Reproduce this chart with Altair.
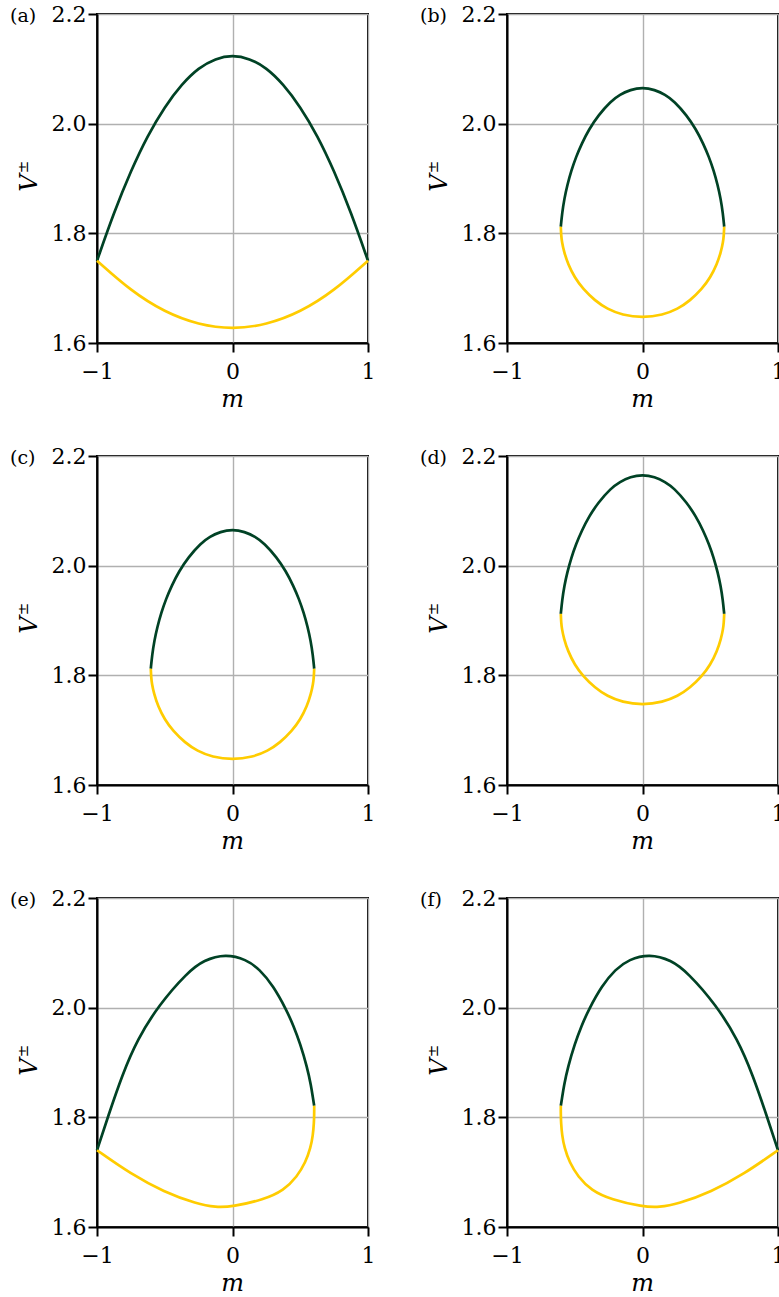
import altair as alt
import pandas as pd

GREEN = "#004225"
YELLOW = "#FFCC00"
FONT = "DejaVu Serif"

# ---- branch values V+ (upper) and V- (lower) against m, per panel ----
a_up_m = [-1.0, -0.875, -0.75, -0.625, -0.5, -0.375, -0.25, -0.125, 0.0,
          0.125, 0.25, 0.375, 0.5, 0.625, 0.75, 0.875, 1.0]
a_up_v = [1.750, 1.838, 1.914, 1.979, 2.031, 2.072, 2.102, 2.119, 2.125,
          2.119, 2.102, 2.072, 2.031, 1.979, 1.914, 1.838, 1.750]
a_lo_m = [-1.0, -0.75, -0.5, -0.25, 0.0, 0.25, 0.5, 0.75, 1.0]
a_lo_v = [1.750, 1.695, 1.656, 1.633, 1.625, 1.633, 1.656, 1.695, 1.750]

egg_up_m = [-0.603, -0.593, -0.577, -0.555, -0.526, -0.491, -0.448, -0.394, -0.327,
            -0.234, -0.167, -0.09, 0.0, 0.09, 0.167, 0.234, 0.327, 0.394, 0.448,
            0.491, 0.526, 0.555, 0.577, 0.593, 0.603]
egg_up_v = [1.812, 1.837, 1.863, 1.888, 1.914, 1.939, 1.964, 1.990, 2.015,
            2.041, 2.053, 2.062, 2.066, 2.062, 2.053, 2.041, 2.015, 1.990, 1.964,
            1.939, 1.914, 1.888, 1.863, 1.837, 1.812]
egg_lo_m = [-0.603, -0.600, -0.595, -0.58, -0.55, -0.50, -0.44, -0.35, -0.26, -0.15,
            0.0, 0.15, 0.26, 0.35, 0.44, 0.50, 0.55, 0.58, 0.595, 0.600, 0.603]
egg_lo_v = [1.812, 1.796, 1.785, 1.767, 1.744, 1.719, 1.699, 1.677, 1.662, 1.651,
            1.646, 1.651, 1.662, 1.677, 1.699, 1.719, 1.744, 1.767, 1.785, 1.796, 1.812]

d_up_m = egg_up_m
d_up_v = [1.912, 1.937, 1.963, 1.988, 2.014, 2.039, 2.064, 2.090, 2.115,
          2.141, 2.153, 2.162, 2.166, 2.162, 2.153, 2.141, 2.115, 2.090, 2.064,
          2.039, 2.014, 1.988, 1.963, 1.937, 1.912]
d_lo_m = egg_lo_m
d_lo_v = [1.912, 1.896, 1.885, 1.867, 1.844, 1.819, 1.799, 1.777, 1.762, 1.751,
          1.746, 1.751, 1.762, 1.777, 1.799, 1.819, 1.844, 1.867, 1.885, 1.896, 1.912]

e_up_m = [-1.0, -0.918, -0.813, -0.703, -0.543, -0.334, -0.211, -0.05, 0.1, 0.2,
          0.3, 0.4, 0.45, 0.5, 0.55, 0.58, 0.595, 0.603]
e_up_v = [1.740, 1.802, 1.878, 1.942, 2.005, 2.064, 2.087, 2.098, 2.088, 2.070,
          2.040, 1.995, 1.967, 1.934, 1.892, 1.858, 1.833, 1.821]
e_lo_m = [-1.0, -0.752, -0.506, -0.261, -0.125, 0.0, 0.231, 0.379, 0.477, 0.539,
          0.576, 0.594, 0.601, 0.603, 0.603]
e_lo_v = [1.740, 1.697, 1.664, 1.642, 1.636, 1.637, 1.650, 1.667, 1.692, 1.718,
          1.744, 1.768, 1.790, 1.805, 1.821]

f_up_m = [-0.603, -0.595, -0.58, -0.55, -0.5, -0.45, -0.4, -0.3, -0.2, -0.1,
          0.05, 0.211, 0.334, 0.543, 0.703, 0.813, 0.918, 1.0]
f_up_v = [1.821, 1.833, 1.858, 1.892, 1.934, 1.967, 1.995, 2.040, 2.070, 2.088,
          2.098, 2.087, 2.064, 2.005, 1.942, 1.878, 1.802, 1.740]
f_lo_m = [-0.603, -0.603, -0.601, -0.594, -0.576, -0.539, -0.477, -0.379, -0.231,
          0.0, 0.125, 0.261, 0.506, 0.752, 1.0]
f_lo_v = [1.821, 1.805, 1.790, 1.768, 1.744, 1.718, 1.692, 1.667, 1.650,
          1.637, 1.636, 1.642, 1.664, 1.697, 1.740]

y_ticks = [1.6, 1.8, 2.0, 2.2]

W, H = 271, 329
PAGE_W, PAGE_H = 779, 1297
LEFT, TOP = 97, 14


def branch_table(up_m, up_v, lo_m, lo_v):
    rows = [{"m": m, "V": v, "branch": "upper", "i": k}
            for k, (m, v) in enumerate(zip(up_m, up_v))]
    rows += [{"m": m, "V": v, "branch": "lower", "i": k}
             for k, (m, v) in enumerate(zip(lo_m, lo_v))]
    return pd.DataFrame(rows)


def panel(letter, up_m, up_v, lo_m, lo_v):
    df = branch_table(up_m, up_v, lo_m, lo_v)
    curves = alt.Chart(df).mark_line(strokeWidth=2.7, interpolate="basis").encode(
        x=alt.X("m:Q",
                scale=alt.Scale(domain=[-1, 1], nice=False, zero=False),
                axis=alt.Axis(tickCount=2, format="d", title=None, grid=True,
                              labelPadding=9, labelFlush=False, labelOverlap=False)),
        y=alt.Y("V:Q",
                scale=alt.Scale(domain=[1.6, 2.2], nice=False, zero=False),
                axis=alt.Axis(values=y_ticks, format=".1f", title=None, grid=True,
                              labelPadding=2, labelFlush=False, labelOverlap=False)),
        color=alt.Color("branch:N",
                        scale=alt.Scale(domain=["upper", "lower"], range=[GREEN, YELLOW]),
                        legend=None),
        order="i:Q",
    )
    one = pd.DataFrame({"t": [0]})
    tag = alt.Chart(one).mark_text(
        text=f"({letter})", font=FONT, fontSize=19, align="left", baseline="middle", color="black"
    ).encode(x=alt.value(-87), y=alt.value(2))
    v_title = alt.Chart(one).mark_text(
        text="V", font=FONT, fontSize=24, fontStyle="italic", angle=270,
        align="center", baseline="middle", color="black"
    ).encode(x=alt.value(-67), y=alt.value(169))
    pm = alt.Chart(one).mark_text(
        text="±", font=FONT, fontSize=15, angle=270,
        align="center", baseline="middle", color="black"
    ).encode(x=alt.value(-74), y=alt.value(153))
    m_title = alt.Chart(one).mark_text(
        text="m", font=FONT, fontSize=24, fontStyle="italic",
        align="center", baseline="alphabetic", color="black"
    ).encode(x=alt.value(W / 2), y=alt.value(393))
    return alt.layer(curves, tag, v_title, pm, m_title).properties(width=W, height=H)


panels = [
    panel("a", a_up_m, a_up_v, a_lo_m, a_lo_v),
    panel("b", egg_up_m, egg_up_v, egg_lo_m, egg_lo_v),
    panel("c", egg_up_m, egg_up_v, egg_lo_m, egg_lo_v),
    panel("d", d_up_m, d_up_v, d_lo_m, d_lo_v),
    panel("e", e_up_m, e_up_v, e_lo_m, e_lo_v),
    panel("f", f_up_m, f_up_v, f_lo_m, f_lo_v),
]

# fixed page: the grid origin sits at (LEFT, TOP); anything past the page edge is cut
chart = alt.concat(
    *panels, columns=2, spacing={"row": 113, "column": 139}, bounds="flush"
).properties(
    autosize=alt.AutoSizeParams(type="none"),
    padding={"left": LEFT, "top": TOP, "right": PAGE_W - LEFT, "bottom": PAGE_H - TOP},
).configure_view(
    stroke="black", strokeWidth=2
).configure_axis(
    domainColor="black", domainWidth=2,
    tickColor="black", tickWidth=2, tickSize=9,
    gridColor="#b0b0b0", gridWidth=1.4,
    labelFont=FONT, labelFontSize=22, labelColor="black",
)

chart.save("out.html", embed_options={"renderer": "svg", "actions": False})
